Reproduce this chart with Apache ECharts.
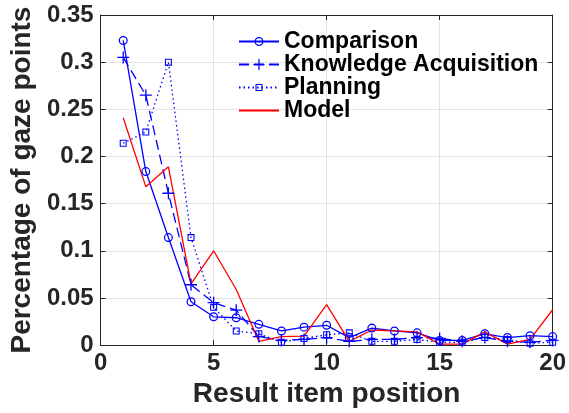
<!DOCTYPE html>
<html>
<head>
<meta charset="utf-8">
<script src="https://cdn.jsdelivr.net/npm/echarts@6/dist/echarts.min.js"></script>
<style>
html,body{margin:0;padding:0;background:#fff;}
#chart{width:569px;height:413px;}
</style>
</head>
<body>
<div id="chart"></div>
<script>
const positions = [1,2,3,4,5,6,7,8,9,10,11,12,13,14,15,16,17,18,19,20];
const comparison = [0.323,0.184,0.114,0.046,0.030,0.029,0.022,0.015,0.019,0.021,0.008,0.018,0.015,0.013,0.005,0.005,0.012,0.008,0.010,0.009];
const knowledge = [0.305,0.265,0.161,0.064,0.045,0.037,0.009,0.005,0.006,0.008,0.004,0.006,0.006,0.008,0.007,0.004,0.008,0.004,0.003,0.005];
const planning = [0.214,0.226,0.300,0.114,0.040,0.015,0.012,0.003,0.007,0.011,0.013,0.004,0.004,0.006,0.003,0.003,0.008,0.006,0.002,0.003];
const model = [0.241,0.168,0.189,0.065,0.100,0.059,0.004,0.009,0.0095,0.043,0.004,0.016,0.015,0.014,0.001,0.001,0.014,0.001,0.006,0.0375];
const xTicks = [0,5,10,15,20];
const yTicks = ['0','0.05','0.1','0.15','0.2','0.25','0.3','0.35'];
const seriesNames = ['Comparison','Knowledge Acquisition','Planning','Model'];

const FONT = '"Liberation Sans", Arial, Helvetica, sans-serif';
const AX = '#262626';
const BLUE = '#0000ff';
const RED = '#ff0000';
// hollow symbols, with invisible padding so that legend icons come out smaller
const CIRCLE = 'path://M-1.25,-1.25M11.25,11.25M0,5A5,5,0,1,1,10,5A5,5,0,1,1,0,5ZM1.4,5A3.6,3.6,0,1,0,8.6,5A3.6,3.6,0,1,0,1.4,5Z';
const PLUS = 'path://M4.45,0H5.55V4.45H10V5.55H5.55V10H4.45V5.55H0V4.45H4.45Z';
const SQUARE = 'path://M-3,-3M13,13M0,0H10V10H0ZM1.5,1.5V8.5H8.5V1.5Z';

function pairs(vals){ return positions.map((p,i)=>[p, vals[i]]); }

const chart = echarts.init(document.getElementById('chart'), null, {renderer:'canvas'});
const yFmt = v => { const idx = Math.round(v/0.05); return yTicks[idx] !== undefined ? yTicks[idx] : ''; };

chart.setOption({
  animation: false,
  backgroundColor: '#fff',
  grid: {left: 97, right: 13, top: 15, bottom: 64, containLabel: false},
  legend: {
    left: 233, top: 25, orient: 'vertical', padding: 5,
    itemWidth: 40, itemHeight: 14, itemGap: 0,
    data: [seriesNames[0], seriesNames[1], seriesNames[2],
           {name: seriesNames[3], itemStyle: {color: 'rgba(0,0,0,0)', borderWidth: 0}}],
    textStyle: {fontFamily: FONT, fontWeight: 'bold', fontSize: 23, color: '#000', lineHeight: 22}
  },
  xAxis: [{
    type: 'value', min: xTicks[0], max: xTicks[xTicks.length-1], interval: 5,
    name: 'Result item position', nameLocation: 'middle', nameGap: 29,
    nameTextStyle: {fontFamily: FONT, fontWeight: 'bold', fontSize: 28, color: AX},
    axisLine: {show: true, onZero: false, lineStyle: {color: AX, width: 1}},
    axisTick: {show: true, inside: true, length: 5, lineStyle: {color: AX}},
    axisLabel: {fontFamily: FONT, fontWeight: 'bold', fontSize: 24, color: AX, margin: 6},
    splitLine: {show: true, lineStyle: {color: '#e3e3e3', width: 1}}
  },{
    type: 'value', position: 'top', min: 0, max: 20, interval: 5,
    axisLine: {show: true, onZero: false, lineStyle: {color: AX, width: 1}},
    axisTick: {show: true, inside: true, length: 5, lineStyle: {color: AX}},
    axisLabel: {show: false}, splitLine: {show: false}
  }],
  yAxis: [{
    type: 'value', min: 0, max: 0.35, interval: 0.05,
    name: 'Percentage of gaze points', nameLocation: 'middle', nameGap: 57,
    nameTextStyle: {fontFamily: FONT, fontWeight: 'bold', fontSize: 28, color: AX},
    axisLine: {show: true, onZero: false, lineStyle: {color: AX, width: 1}},
    axisTick: {show: true, inside: true, length: 5, lineStyle: {color: AX}},
    axisLabel: {fontFamily: FONT, fontWeight: 'bold', fontSize: 24, color: AX, margin: 7, formatter: yFmt},
    splitLine: {show: true, lineStyle: {color: '#e3e3e3', width: 1}}
  },{
    type: 'value', position: 'right', min: 0, max: 0.35, interval: 0.05,
    axisLine: {show: true, onZero: false, lineStyle: {color: AX, width: 1}},
    axisTick: {show: true, inside: true, length: 5, lineStyle: {color: AX}},
    axisLabel: {show: false}, splitLine: {show: false}
  }],
  series: [
    {name: seriesNames[0], type: 'line', data: pairs(comparison),
     symbol: CIRCLE, symbolSize: 11.25, itemStyle: {color: BLUE},
     lineStyle: {color: BLUE, width: 1.3, type: 'solid'}},
    {name: seriesNames[1], type: 'line', data: pairs(knowledge),
     symbol: PLUS, symbolSize: 12, itemStyle: {color: BLUE},
     lineStyle: {color: BLUE, width: 1.3, type: [10,5]}},
    {name: seriesNames[2], type: 'line', data: pairs(planning),
     symbol: SQUARE, symbolSize: 11.2, itemStyle: {color: BLUE},
     lineStyle: {color: BLUE, width: 1.3, type: [1.5,3]}},
    {name: seriesNames[3], type: 'line', data: pairs(model),
     symbol: 'none', itemStyle: {color: RED},
     lineStyle: {color: RED, width: 1.3, type: 'solid'}}
  ]
});
</script>
</body>
</html>
